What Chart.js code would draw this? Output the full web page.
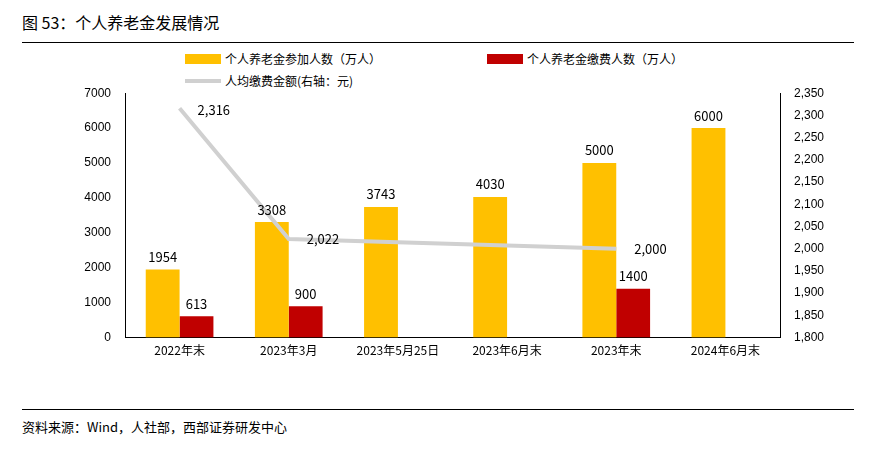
<!DOCTYPE html>
<html><head><meta charset="utf-8">
<script src="https://cdn.jsdelivr.net/npm/chart.js@4"></script>
<style>
body{margin:0;width:884px;height:449px;background:#fff;font-family:"Noto Sans CJK SC",sans-serif;position:relative;overflow:hidden}
#title{position:absolute;left:22px;top:10px;font-size:16px;color:#000}
.rule{position:absolute;left:22px;width:832px;height:1px;background:#000}
#src{position:absolute;left:22px;top:417px;font-size:13px}
#legend{position:absolute;left:185px;top:50px;font-size:12px}
.li{position:absolute;white-space:nowrap;display:flex;align-items:center}
.sw{display:inline-block;margin-right:4px}
#wrap{position:absolute;left:0;top:80px;width:884px;height:284px}
</style></head><body>
<div id="title">图 53：个人养老金发展情况</div>
<div class="rule" style="top:42px"></div>
<div id="legend">
 <div class="li" style="left:0;top:0"><span class="sw" style="width:36px;height:10px;background:#FFC000"></span>个人养老金参加人数（万人）</div>
 <div class="li" style="left:302px;top:0"><span class="sw" style="width:36px;height:10px;background:#C00000"></span>个人养老金缴费人数（万人）</div>
 <div class="li" style="left:0;top:22px"><span class="sw" style="width:36px;height:4px;background:#D0D0D0"></span>人均缴费金额(右轴：元)</div>
</div>
<div id="wrap"><canvas id="chart"></canvas></div>
<div class="rule" style="top:409px"></div>
<div id="src">资料来源：Wind，人社部，西部证券研发中心</div>
<script>
const categories = ["2022年末", "2023年3月", "2023年5月25日", "2023年6月末", "2023年末", "2024年6月末"];
const participants = [1954, 3308, 3743, 4030, 5000, 6000];
const contributors = [613, 900, null, null, 1400, null];
const perCapita = [2316, 2022, null, null, 2000, null];

const labelPlugin = {
  id: "labels",
  afterDatasetsDraw(chart) {
    const ctx = chart.ctx;
    ctx.save();
    ctx.font = "13px 'Noto Sans CJK SC', sans-serif";
    ctx.fillStyle = "#000";
    chart.data.datasets.forEach((ds, i) => {
      const meta = chart.getDatasetMeta(i);
      meta.data.forEach((el, j) => {
        const v = ds.data[j];
        if (v == null) return;
        if (ds.type === "line") {
          ctx.textAlign = "left"; ctx.textBaseline = "middle";
          ctx.fillText(v.toLocaleString("en-US"), el.x + 18, el.y + (j === 0 ? 2 : 0));
        } else {
          ctx.textAlign = "center"; ctx.textBaseline = "bottom";
          ctx.fillText(v, el.x, el.y - 6);
        }
      });
    });
    ctx.restore();
  }
};

new Chart(document.getElementById("chart"), {
  type: "bar",
  data: {
    labels: categories,
    datasets: [
      { type: "line", data: perCapita, yAxisID: "y1", borderColor: "#D0D0D0", borderWidth: 4, pointRadius: 0, spanGaps: true, order: 0 },
      { data: participants, backgroundColor: "#FFC000", yAxisID: "y", order: 1 },
      { data: contributors, backgroundColor: "#C00000", yAxisID: "y", order: 2 }
    ]
  },
  options: {
    responsive: true, maintainAspectRatio: false, animation: false,
    layout: { padding: { left: 0, right: 0, top: 6, bottom: 0 } },
    datasets: { bar: { categoryPercentage: 0.62, barPercentage: 1 } },
    plugins: { legend: { display: false }, tooltip: { enabled: false } },
    scales: {
      x: {
        grid: { display: false, drawTicks: false },
        border: { color: "#000" },
        ticks: { color: "#000", font: { size: 12, family: "'Noto Sans CJK SC'" }, padding: 6, maxRotation: 0 }
      },
      y: {
        min: 0, max: 7000,
        afterFit(s) { s.width = 125; },
        grid: { display: false },
        border: { color: "#000" },
        ticks: { stepSize: 1000, color: "#000", font: { size: 12 }, padding: 6, callback: v => String(v) }
      },
      y1: {
        position: "right", min: 1800, max: 2350,
        afterFit(s) { s.width = 104; },
        grid: { display: false },
        border: { color: "#000" },
        ticks: { stepSize: 50, color: "#000", font: { size: 12 }, padding: 6, callback: v => v.toLocaleString("en-US") }
      }
    }
  },
  plugins: [labelPlugin]
});
</script>
</body></html>
